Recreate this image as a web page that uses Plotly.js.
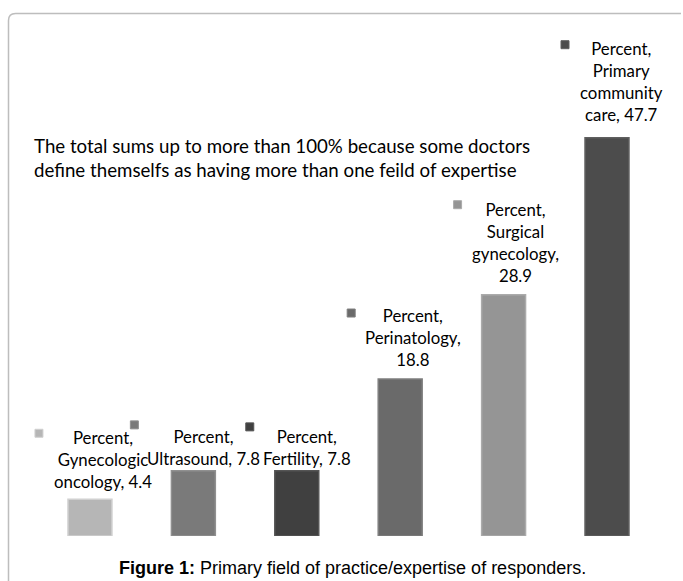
<!DOCTYPE html>
<html>
<head>
<meta charset="utf-8">
<script src="https://cdn.plot.ly/plotly-3.0.1.min.js"></script>
<style>html,body{margin:0;padding:0;background:#fff;}#chart{width:683px;height:581px;}</style>
</head>
<body>
<div id="chart"></div>
<script>
// ---- data ----
const seriesName = "Percent";
const categories = ["Gynecologic oncology", "Ultrasound", "Fertility", "Perinatology", "Surgical gynecology", "Primary community care"];
const values = [4.4, 7.8, 7.8, 18.8, 28.9, 47.7];
const noteText = "The total sums up to more than 100% because some doctors<br>define themselfs as having more than one feild of expertise";
const captionBold = "Figure 1:";
const captionText = " Primary field of practice/expertise of responders.";

// ---- styles ----
const W = 683, H = 581, bottomMargin = 45;
const plotH = H - bottomMargin;
const barColors = ["#b6b6b6", "#7a7a7a", "#404040", "#6a6a6a", "#959595", "#4c4c4c"];
const barLines  = ["#d0d0d0", "#909090", "#555555", "#7e7e7e", "#ababab", "#5f5f5f"];
const wrapLimit = [13, 15, 15, 13, 13, 13];
const textShiftX = [13, 10, 10, 13, 12, 14];
const textShiftY = [5, 0, 0, 7, 7, 11];
const keyDX = [-51, -59, -47, -49, -46, -42];
const keyDY = [66, 46, 44, 66, 90, 93];
const labelFont = {family: "Lato, 'Open Sans', sans-serif", size: 16.8, color: "#000"};

function wrap(str, limit) {
  const words = str.split(" ");
  const lines = [];
  let cur = "";
  words.forEach(w => {
    if (cur === "") cur = w;
    else if ((cur + " " + w).length <= limit) cur += " " + w;
    else { lines.push(cur); cur = w; }
  });
  if (cur) lines.push(cur);
  return lines.join("<br>");
}
const px = x => x / W;
const py = y => (plotH - y) / plotH;

const xs = categories.map((_, i) => i);

const trace = {
  type: "bar",
  x: xs,
  y: values,
  width: 0.425,
  marker: {color: barColors, line: {color: barLines, width: 1.5}},
  hoverinfo: "skip"
};

const annotations = categories.map((c, i) => ({
  x: i, y: values[i], xref: "x", yref: "y",
  text: wrap(`${seriesName}, ${c}, ${values[i]}`, wrapLimit[i]),
  showarrow: false, xanchor: "center", yanchor: "bottom", align: "center",
  xshift: textShiftX[i], yshift: textShiftY[i],
  font: labelFont
}));

annotations.push({
  xref: "paper", yref: "paper", x: px(32), y: py(158),
  xanchor: "left", yanchor: "middle", align: "left", showarrow: false,
  text: noteText,
  font: {family: "Lato, 'Open Sans', sans-serif", size: 18.7, color: "#000"}
});
annotations.push({
  xref: "paper", yref: "paper", x: px(352), y: py(568),
  xanchor: "center", yanchor: "middle", showarrow: false,
  text: `<b>${captionBold}</b>${captionText}`,
  font: {family: "'Liberation Sans', Arial, sans-serif", size: 18, color: "#000"}
});

const shapes = categories.map((c, i) => ({
  type: "rect", xref: "x", yref: "y",
  xsizemode: "pixel", ysizemode: "pixel",
  xanchor: i, yanchor: values[i],
  x0: keyDX[i] - 4, x1: keyDX[i] + 4,
  y0: keyDY[i] - 4, y1: keyDY[i] + 4,
  fillcolor: barColors[i], line: {color: barLines[i], width: 1}
}));

// rounded border frame (pixel coords converted to paper)
const L = 8.5, T = 13.5, R = 681, B = 600, r = 7;
shapes.push({
  type: "path", xref: "paper", yref: "paper",
  path: `M ${px(L)},${py(B)} L ${px(L)},${py(T + r)} Q ${px(L)},${py(T)} ${px(L + r)},${py(T)} L ${px(R)},${py(T)}`,
  line: {color: "#bdbdbd", width: 1.5}
});

const layout = {
  width: W, height: H,
  margin: {l: 0, r: 0, t: 0, b: bottomMargin, pad: 0},
  paper_bgcolor: "#fff", plot_bgcolor: "#fff",
  showlegend: false,
  xaxis: {range: [-0.870, 5.735], visible: false, fixedrange: true},
  yaxis: {range: [0, plotH / 8.35], visible: false, fixedrange: true},
  annotations: annotations,
  shapes: shapes
};

Plotly.newPlot("chart", [trace], layout, {displayModeBar: false, staticPlot: true});
</script>
</body>
</html>
